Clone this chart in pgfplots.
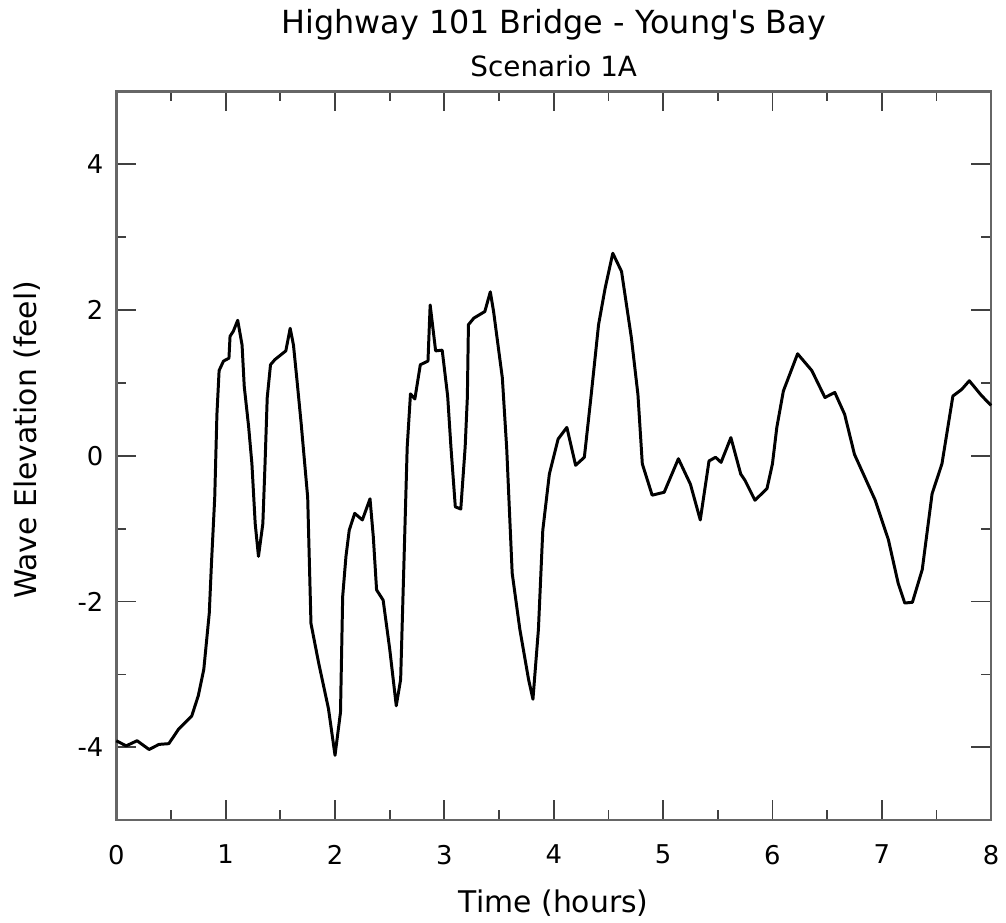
\documentclass[border=0pt]{standalone}
\usepackage{fontspec}
\setmainfont{DejaVu Sans}
\usepackage{pgfplots}
\pgfplotsset{compat=1.18}

\begin{document}
\begin{tikzpicture}
\begin{axis}[
  scale only axis,
  width=440pt, height=366.5pt,
  xmin=0, xmax=8, ymin=-5, ymax=5,
  xtick={0,...,8}, ytick={-4,-2,...,4},
  minor x tick num=1, minor y tick num=1,
  tick align=inside,
  major tick length=10pt, minor tick length=5pt,
  every tick/.style={black!75, line width=0.9pt},
  axis line style={black!60, line width=1.3pt},
  /pgf/number format/assume math mode=true,
  tick label style={font=\fontsize{13}{15}\selectfont},
  xticklabel style={yshift=-9pt},
  yticklabel style={xshift=-3pt},
  xlabel={Time (hours)},
  ylabel={Wave Elevation (feel)},
  xlabel style={font=\fontsize{15}{18}\selectfont, at={(rel axis cs:0.5,0)}, anchor=center, yshift=-41.5pt},
  ylabel style={font=\fontsize{15}{18}\selectfont, at={([xshift=-45pt,yshift=8pt]rel axis cs:0,0.5)}, anchor=center},
  clip=false,
]
\addplot[black, line width=1.5pt, line join=round] coordinates {
(0.00,-3.91) (0.09,-3.98) (0.19,-3.91) (0.30,-4.03) (0.39,-3.96) (0.48,-3.95)
(0.57,-3.75) (0.69,-3.57) (0.75,-3.29) (0.80,-2.93) (0.85,-2.16) (0.87,-1.48)
(0.90,-0.57) (0.92,0.57) (0.94,1.17) (0.98,1.30) (1.03,1.34) (1.04,1.64)
(1.07,1.71) (1.11,1.86) (1.15,1.52) (1.17,0.95) (1.21,0.40) (1.24,-0.11)
(1.27,-0.93) (1.30,-1.38) (1.34,-0.93) (1.36,-0.11) (1.38,0.8) (1.41,1.25)
(1.45,1.32) (1.55,1.44) (1.59,1.75) (1.62,1.52) (1.65,1.07) (1.69,0.45)
(1.75,-0.57) (1.78,-2.3) (1.85,-2.84) (1.94,-3.47) (2.00,-4.11) (2.05,-3.52)
(2.07,-1.93) (2.10,-1.38) (2.13,-1.02) (2.18,-0.79) (2.25,-0.88) (2.32,-0.59)
(2.35,-1.11) (2.38,-1.84) (2.44,-1.98) (2.50,-2.65) (2.56,-3.43) (2.60,-3.07)
(2.63,-1.48) (2.66,0.12) (2.69,0.85) (2.73,0.78) (2.78,1.25) (2.85,1.30)
(2.87,2.07) (2.92,1.44) (2.98,1.45) (3.03,0.82) (3.06,0.12) (3.10,-0.70)
(3.15,-0.73) (3.19,0.12) (3.21,0.8) (3.22,1.80) (3.27,1.89) (3.37,1.98)
(3.42,2.25) (3.45,1.98) (3.53,1.07) (3.57,0.10) (3.62,-1.61) (3.69,-2.38)
(3.77,-3.07) (3.81,-3.34) (3.86,-2.38) (3.90,-1.02) (3.96,-0.25) (4.04,0.23)
(4.12,0.39) (4.20,-0.13) (4.28,-0.02) (4.34,0.8) (4.41,1.80) (4.47,2.30)
(4.54,2.78) (4.62,2.53) (4.71,1.62) (4.77,0.84) (4.81,-0.11) (4.90,-0.54)
(5.01,-0.50) (5.14,-0.04) (5.25,-0.39) (5.34,-0.88) (5.42,-0.07) (5.48,-0.02)
(5.53,-0.09) (5.62,0.25) (5.71,-0.25) (5.75,-0.34) (5.84,-0.61) (5.95,-0.45)
(6.00,-0.11) (6.04,0.39) (6.10,0.89) (6.23,1.40) (6.36,1.17) (6.48,0.8)
(6.57,0.87) (6.66,0.57) (6.75,0.02) (6.94,-0.61) (7.06,-1.15) (7.15,-1.75)
(7.21,-2.02) (7.28,-2.01) (7.37,-1.56) (7.46,-0.52) (7.55,-0.11) (7.65,0.82)
(7.73,0.91) (7.80,1.03) (7.91,0.83) (8.00,0.69)
};
\node[font=\fontsize{16}{19}\selectfont] at ([yshift=33.5pt]rel axis cs:0.5,1) {Highway 101 Bridge - Young\textquotesingle s Bay};
\node[font=\fontsize{14}{17}\selectfont] at ([yshift=12.5pt]rel axis cs:0.5,1) {Scenario 1A};
\end{axis}
\useasboundingbox (-58.5pt,-50pt) rectangle (444.5pt,412.5pt);
\end{tikzpicture}
\end{document}
